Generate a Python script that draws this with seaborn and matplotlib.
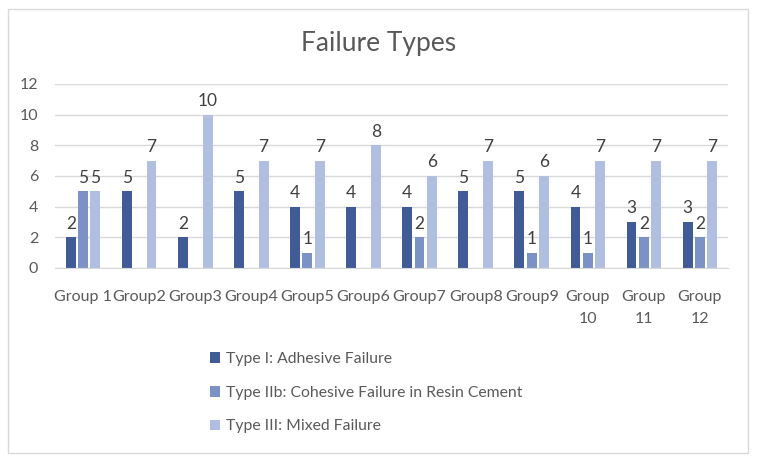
import matplotlib
matplotlib.use("Agg")
import matplotlib.pyplot as plt
import seaborn as sns
import pandas as pd
from matplotlib.patches import Rectangle

groups = ["Group 1", "Group2", "Group3", "Group4", "Group5", "Group6", "Group7",
          "Group8", "Group9", "Group\n10", "Group\n11", "Group\n12"]
series = ["Type I: Adhesive Failure",
          "Type IIb: Cohesive Failure in Resin Cement",
          "Type III: Mixed Failure"]
type_i = [2, 5, 2, 5, 4, 4, 4, 5, 5, 4, 3, 3]
type_iib = [5, 0, 0, 0, 1, 0, 2, 0, 1, 1, 2, 2]
type_iii = [5, 7, 10, 7, 7, 8, 6, 7, 6, 7, 7, 7]
colors = ["#3F5B98", "#7B92C6", "#B0BFE1"]

rows = []
for s, vals in zip(series, [type_i, type_iib, type_iii]):
    for g, v in zip(groups, vals):
        rows.append({"group": g, "type": s, "value": v})
df = pd.DataFrame(rows)

sns.set_style("white")
plt.rcParams["font.family"] = ["Lato", "DejaVu Sans"]

fig = plt.figure(figsize=(7.57, 4.61), dpi=100)
ax = fig.add_axes([0.0727, 0.4187, 0.8890, 0.3991])

sns.barplot(data=df, x="group", y="value", hue="type", order=groups,
            hue_order=series, palette=colors, width=0.66, gap=0.2,
            saturation=1, linewidth=0, ax=ax, legend=True)

for cont in ax.containers:
    labs = [("%d" % b.get_height()) if b.get_height() > 0 else "" for b in cont]
    ax.bar_label(cont, labels=labs, padding=4, fontsize=12.5, color="#404040")

ax.set_ylim(0, 12)
ax.set_yticks(range(0, 13, 2))
ax.set_xlim(-0.5, len(groups) - 0.5)
ax.yaxis.grid(True, color="#D9D9D9", linewidth=1)
ax.set_axisbelow(True)
for sp in ["left", "right", "top"]:
    ax.spines[sp].set_visible(False)
ax.spines["bottom"].set_color("#D9D9D9")
ax.tick_params(axis="both", length=0, labelsize=11.5, colors="#595959")
ax.tick_params(axis="x", pad=16)
ax.tick_params(axis="y", pad=12)
ax.set_xlabel("")
ax.set_ylabel("")
for t in ax.get_xticklabels():
    t.set_linespacing(1.7)
    t.set_verticalalignment("top")

fig.text(0.5, 0.905, "Failure Types", ha="center", va="center",
         fontsize=19, color="#595959")

handles, labels = ax.get_legend_handles_labels()
ax.legend_.remove()
fig.legend(handles, labels, loc="upper left", bbox_to_anchor=(0.277, 0.236),
           frameon=False, fontsize=11.3, labelcolor="#595959",
           handlelength=0.65, handleheight=0.65, handletextpad=0.4,
           labelspacing=1.25, borderaxespad=0, borderpad=0)

fig.patches.append(Rectangle((8 / 757, 8 / 461), 740 / 757, 444 / 461,
                             transform=fig.transFigure, fill=False,
                             edgecolor="#D9D9D9", linewidth=1))

fig.savefig("out.png", dpi=100)
